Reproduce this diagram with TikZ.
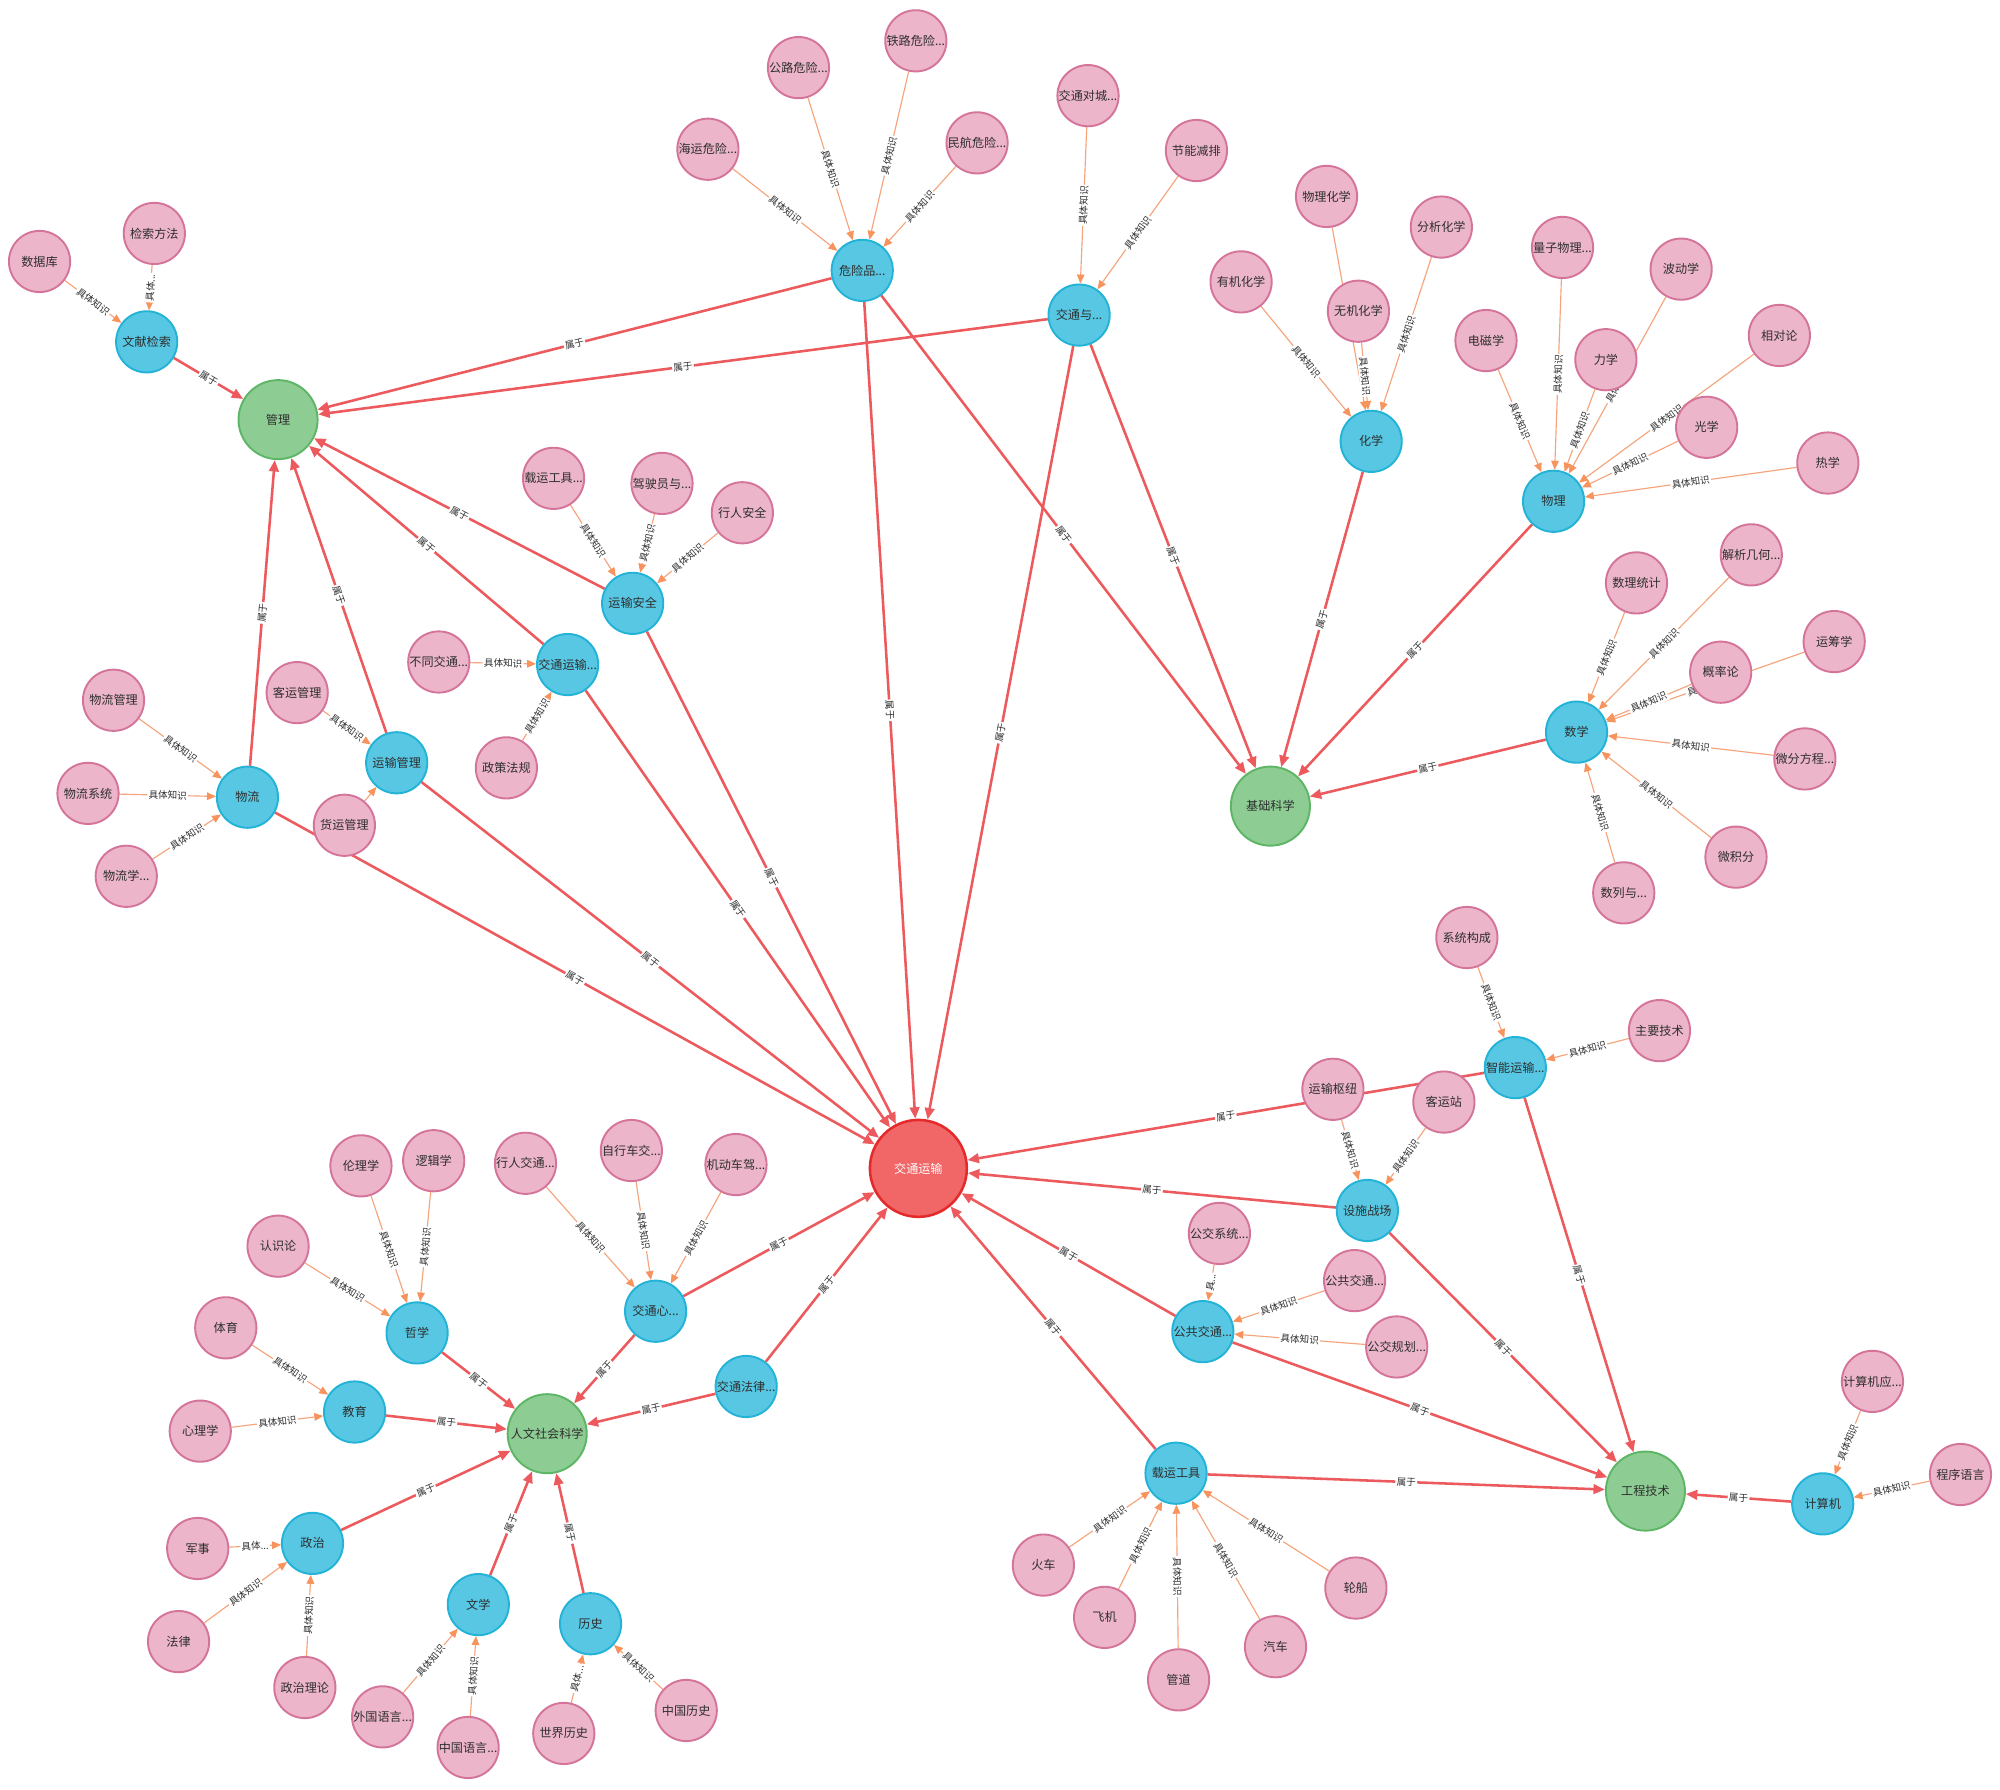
\documentclass[tikz,border=0pt]{standalone}
\usepackage{fontspec}
\setmainfont{Noto Sans CJK SC}
\usetikzlibrary{arrows.meta}
\pgfdeclarelayer{background}
\pgfsetlayers{background,main}
\definecolor{pkfill}{HTML}{ECB5C9}
\definecolor{pkdraw}{HTML}{D5749A}
\definecolor{blfill}{HTML}{57C7E3}
\definecolor{bldraw}{HTML}{23B3D7}
\definecolor{grfill}{HTML}{8DCC93}
\definecolor{grdraw}{HTML}{5DB665}
\definecolor{rdfill}{HTML}{F16667}
\definecolor{rddraw}{HTML}{E52A2B}
\definecolor{belcol}{HTML}{EC5A5D}
\definecolor{kncol}{HTML}{F5A47C}
\definecolor{kntip}{HTML}{F7945E}
\definecolor{txtcol}{HTML}{2E2E2E}
\tikzset{
  basenode/.style={circle, minimum size=48pt, inner sep=0pt, line width=1.5pt,
    font=\fontsize{9.5}{10}\selectfont, text=txtcol},
  pk/.style={basenode, fill=pkfill, draw=pkdraw},
  bl/.style={basenode, fill=blfill, draw=bldraw},
  gr/.style={basenode, minimum size=62pt, fill=grfill, draw=grdraw},
  rd/.style={basenode, minimum size=76pt, fill=rdfill, draw=rddraw, line width=2pt, text=white},
  knw/.style={draw=kncol, line width=0.9pt, -{Triangle[length=7pt,width=6pt,color=kntip]}},
  belw/.style={draw=belcol, line width=2pt, -{Triangle[length=9pt,width=7.5pt]}},
  lab/.style={midway, sloped, fill=white, inner sep=1pt,
    font=\fontsize{7.5}{8}\selectfont, text=txtcol},
}
\newcommand\myKn[2]{\draw[knw] (#1) -- node[lab]{具体知识} (#2);}
\newcommand\myKt[3]{\draw[knw] (#1) -- node[lab]{#3} (#2);}
\newcommand\myKo[2]{\draw[knw] (#1) -- (#2);}
\newcommand\myBel[2]{\draw[belw] (#1) -- node[lab]{属于} (#2);}
\begin{document}
\begin{tikzpicture}[x=1pt,y=-1pt]
\useasboundingbox (0,0) rectangle (1568,1403);
% ---------- nodes ----------
% top-left
\node[pk] (sjk) at (31,205) {数据库};
\node[pk] (jsff) at (121,183) {检索方法};
\node[bl] (wxjs) at (115,268) {文献检索};
\node[gr] (gl) at (218,329) {管理};
% top centre
\node[pk] (hywx) at (555,117) {海运危险...};
\node[pk] (glwx) at (626,53) {公路危险...};
\node[pk] (tlwx) at (718,32) {铁路危险...};
\node[pk] (mhwx) at (766,112) {民航危险...};
\node[bl] (wxp) at (676,212) {危险品...};
\node[pk] (jtdc) at (853,75) {交通对城...};
\node[pk] (jnjp) at (938,118) {节能减排};
\node[bl] (jty) at (846,247) {交通与...};
% chemistry
\node[pk] (wlhx) at (1040,154) {物理化学};
\node[pk] (fxhx) at (1130,178) {分析化学};
\node[pk] (yjhx) at (973,221) {有机化学};
\node[pk] (wjhx) at (1065,244) {无机化学};
\node[bl] (hx) at (1075,346) {化学};
% physics
\node[pk] (lzwl) at (1225,194) {量子物理...};
\node[pk] (dcx) at (1165,267) {电磁学};
\node[pk] (bdx) at (1318,211) {波动学};
\node[pk] (lx) at (1259,282) {力学};
\node[pk] (xdl) at (1395,263) {相对论};
\node[pk] (gx) at (1338,335) {光学};
\node[pk] (rx) at (1433,363) {热学};
\node[bl] (wl) at (1218,393) {物理};
% math
\node[pk] (sltj) at (1283,457) {数理统计};
\node[pk] (jxjh) at (1373,435) {解析几何...};
\node[pk] (ycx) at (1438,503) {运筹学};
\node[pk] (glv) at (1349,527) {概率论};
\node[pk] (wffc) at (1415,595) {微分方程...};
\node[pk] (wjf) at (1361,672) {微积分};
\node[pk] (sly) at (1273,700) {数列与...};
\node[bl] (sx) at (1236,574) {数学};
\node[gr] (jckx) at (996,632) {基础科学};
% logistics
\node[pk] (wlgl) at (89,549) {物流管理};
\node[pk] (wlxt) at (69,622) {物流系统};
\node[pk] (wlx) at (99,687) {物流学...};
\node[bl] (wlb) at (194,625) {物流};
\node[pk] (kygl) at (233,543) {客运管理};
\node[pk] (hygl) at (270,647) {货运管理};
\node[bl] (ysgl) at (311,598) {运输管理};
% safety
\node[pk] (zygjp) at (434,375) {载运工具...};
\node[pk] (jsy) at (519,379) {驾驶员与...};
\node[pk] (xraq) at (582,402) {行人安全};
\node[bl] (ysaq) at (496,473) {运输安全};
\node[pk] (btjt) at (344,519) {不同交通...};
\node[pk] (zcfg) at (397,602) {政策法规};
\node[bl] (jtysb) at (445,521) {交通运输...};
% centre
\node[rd] (jtys) at (720,916) {交通运输};
% bottom right
\node[pk] (xtgc) at (1150,735) {系统构成};
\node[pk] (zyjs) at (1301,808) {主要技术};
\node[bl] (znys) at (1188,837) {智能运输...};
\node[pk] (ysszn) at (1045,854) {运输枢纽};
\node[pk] (kyz) at (1132,864) {客运站};
\node[bl] (sszc) at (1072,949) {设施战场};
\node[pk] (gjxt) at (956,967) {公交系统...};
\node[pk] (ggjtp) at (1062,1004) {公共交通...};
\node[pk] (gjgh) at (1095,1056) {公交规划...};
\node[bl] (ggjt) at (943,1044) {公共交通...};
\node[bl] (zygj) at (922,1155) {载运工具};
\node[pk] (hc) at (818,1227) {火车};
\node[pk] (fj) at (866,1268) {飞机};
\node[pk] (gd) at (924,1317) {管道};
\node[pk] (qc) at (1000,1291) {汽车};
\node[pk] (lc) at (1063,1245) {轮船};
\node[gr] (gcjs) at (1290,1169) {工程技术};
\node[pk] (jsjy) at (1468,1083) {计算机应...};
\node[pk] (cxyy) at (1537,1156) {程序语言};
\node[bl] (jsj) at (1429,1179) {计算机};
% bottom left
\node[pk] (llx) at (283,914) {伦理学};
\node[pk] (ljx) at (340,910) {逻辑学};
\node[pk] (rsl) at (218,977) {认识论};
\node[bl] (zx) at (327,1045) {哲学};
\node[pk] (ty) at (177,1041) {体育};
\node[pk] (xlx) at (157,1122) {心理学};
\node[bl] (jy) at (278,1107) {教育};
\node[gr] (rwsk) at (429,1124) {人文社会科学};
\node[pk] (xrjt) at (412,912) {行人交通...};
\node[pk] (zxcj) at (495,902) {自行车交...};
\node[pk] (jdcj) at (577,913) {机动车驾...};
\node[bl] (jtx) at (514,1028) {交通心...};
\node[bl] (jtfl) at (585,1087) {交通法律...};
\node[pk] (js) at (155,1214) {军事};
\node[bl] (zz) at (245,1210) {政治};
\node[pk] (fl) at (140,1287) {法律};
\node[pk] (zzll) at (239,1323) {政治理论};
\node[bl] (wx) at (375,1258) {文学};
\node[pk] (wgyy) at (300,1346) {外国语言...};
\node[pk] (zgyy) at (367,1370) {中国语言...};
\node[bl] (ls) at (463,1273) {历史};
\node[pk] (sjls) at (442,1359) {世界历史};
\node[pk] (zgls) at (538,1341) {中国历史};
% ---------- edges ----------
\begin{pgfonlayer}{background}
\fill[white] (0,0) rectangle (1568,1403);
% top-left
\myKn{sjk}{wxjs}
\myKt{jsff}{wxjs}{具体...}
\myBel{wxjs}{gl}
% dangerous goods
\myKn{hywx}{wxp}
\myKn{glwx}{wxp}
\myKn{tlwx}{wxp}
\myKn{mhwx}{wxp}
\myBel{wxp}{gl}
\myBel{wxp}{jtys}
\myBel{wxp}{jckx}
\myKn{jtdc}{jty}
\myKn{jnjp}{jty}
\myBel{jty}{gl}
\myBel{jty}{jtys}
\myBel{jty}{jckx}
% chemistry
\myKn{yjhx}{hx}
\myKn{wlhx}{hx}
\myKn{wjhx}{hx}
\myKn{fxhx}{hx}
\myBel{hx}{jckx}
% physics
\myKn{dcx}{wl}
\myKn{lzwl}{wl}
\myKn{lx}{wl}
\myKn{bdx}{wl}
\myKn{xdl}{wl}
\myKn{gx}{wl}
\myKn{rx}{wl}
\myBel{wl}{jckx}
% math
\myKn{sltj}{sx}
\myKn{jxjh}{sx}
\myKn{ycx}{sx}
\myKn{glv}{sx}
\myKn{wffc}{sx}
\myKn{wjf}{sx}
\myKn{sly}{sx}
\myBel{sx}{jckx}
% logistics
\myKn{wlgl}{wlb}
\myKn{wlxt}{wlb}
\myKn{wlx}{wlb}
\myBel{wlb}{gl}
\myBel{wlb}{jtys}
\myKn{kygl}{ysgl}
\myKo{hygl}{ysgl}
\myBel{ysgl}{gl}
\myBel{ysgl}{jtys}
% safety
\myKn{zygjp}{ysaq}
\myKn{jsy}{ysaq}
\myKn{xraq}{ysaq}
\myBel{ysaq}{gl}
\myBel{ysaq}{jtys}
\myKn{btjt}{jtysb}
\myKn{zcfg}{jtysb}
\myBel{jtysb}{gl}
\myBel{jtysb}{jtys}
% bottom right
\myKn{xtgc}{znys}
\myKn{zyjs}{znys}
\myBel{znys}{jtys}
\myBel{znys}{gcjs}
\myKn{ysszn}{sszc}
\myKn{kyz}{sszc}
\myBel{sszc}{jtys}
\myBel{sszc}{gcjs}
\myKt{gjxt}{ggjt}{具...}
\myKn{ggjtp}{ggjt}
\myKn{gjgh}{ggjt}
\myBel{ggjt}{jtys}
\myBel{ggjt}{gcjs}
\myKn{hc}{zygj}
\myKn{fj}{zygj}
\myKn{gd}{zygj}
\myKn{qc}{zygj}
\myKn{lc}{zygj}
\myBel{zygj}{jtys}
\myBel{zygj}{gcjs}
\myKn{jsjy}{jsj}
\myKn{cxyy}{jsj}
\myBel{jsj}{gcjs}
% bottom left
\myKn{llx}{zx}
\myKn{ljx}{zx}
\myKn{rsl}{zx}
\myBel{zx}{rwsk}
\myKn{ty}{jy}
\myKn{xlx}{jy}
\myBel{jy}{rwsk}
\myKn{xrjt}{jtx}
\myKn{zxcj}{jtx}
\myKn{jdcj}{jtx}
\myBel{jtx}{rwsk}
\myBel{jtx}{jtys}
\myBel{jtfl}{rwsk}
\myBel{jtfl}{jtys}
\myKt{js}{zz}{具体...}
\myKn{fl}{zz}
\myKn{zzll}{zz}
\myBel{zz}{rwsk}
\myKn{wgyy}{wx}
\myKn{zgyy}{wx}
\myBel{wx}{rwsk}
\myKt{sjls}{ls}{具体...}
\myKn{zgls}{ls}
\myBel{ls}{rwsk}
\end{pgfonlayer}
\end{tikzpicture}
\end{document}
